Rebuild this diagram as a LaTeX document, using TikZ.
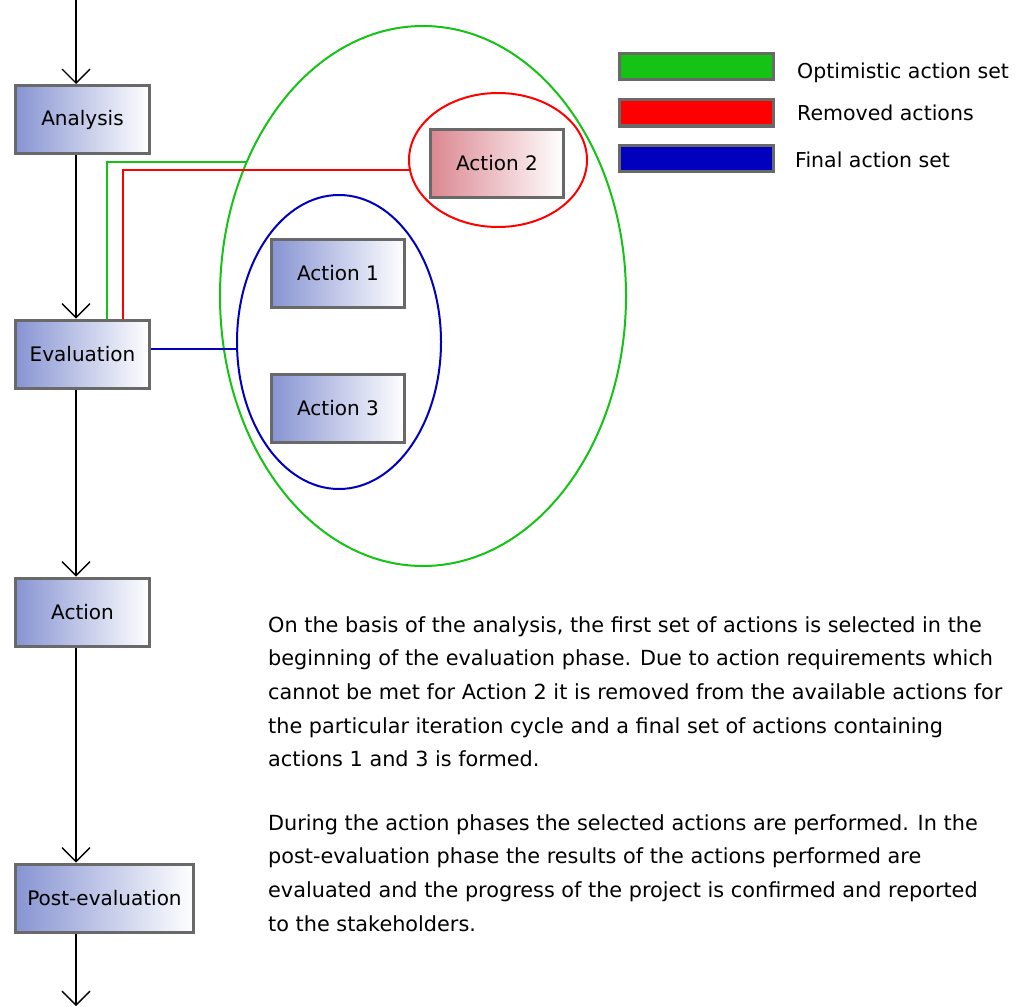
\documentclass[tikz,border=0pt]{standalone}
\usepackage{fontspec}
\setmainfont{DejaVu Sans}
\usetikzlibrary{shapes.geometric,arrows.meta}
\definecolor{boxgray}{RGB}{105,105,105}
\definecolor{boxblue}{RGB}{135,148,210}
\definecolor{boxpink}{RGB}{220,135,145}
\definecolor{optgreen}{RGB}{20,195,20}
\definecolor{remred}{RGB}{255,0,0}
\definecolor{finblue}{RGB}{0,0,190}
\begin{document}
\begin{tikzpicture}[x=1pt,y=-1pt,
  phase/.style={draw=boxgray,line width=3pt,left color=boxblue,right color=white,
    minimum width=134pt,minimum height=68pt,inner sep=0pt,font=\fontsize{20}{24}\selectfont},
  flow/.style={line width=1.4pt,-{Straight Barb[length=14pt,width=28pt,line width=1.3pt]}},
  greenline/.style={draw=optgreen,line width=2pt},
  redline/.style={draw=remred,line width=2pt},
  blueline/.style={draw=finblue,line width=2pt},
  legbar/.style={draw=boxgray,line width=3pt,minimum width=154pt,minimum height=26pt,inner sep=0pt},
  leglabel/.style={anchor=west,inner sep=0pt,font=\fontsize{20.5}{24}\selectfont},
  para/.style={anchor=north west,inner sep=0pt,align=left,font=\fontsize{20.8}{33.7}\selectfont}]
\useasboundingbox (0,0) rectangle (1019,1006);
\fill[white] (0,0) rectangle (1019,1006);

% sets
\node[ellipse,greenline,minimum width=406pt,minimum height=540pt,inner sep=0pt] (opt) at (423,296) {};
\node[ellipse,redline,minimum width=178pt,minimum height=134pt,inner sep=0pt] (rem) at (498,160) {};
\node[ellipse,blueline,minimum width=204pt,minimum height=294pt,inner sep=0pt] (fin) at (339,342) {};

% phases
\node[phase] (analysis) at (82.5,119.5) {Analysis};
\node[phase] (evaluation) at (82.5,354) {Evaluation};
\node[phase] (action) at (82.5,612) {Action};
\node[phase,minimum width=178pt] (post) at (104.5,898) {Post-evaluation};

% actions
\node[phase,left color=boxpink,minimum width=133pt] (a2) at (497,163.5) {Action 2};
\node[phase,minimum width=133pt] (a1) at (338,273) {Action 1};
\node[phase,minimum width=133pt] (a3) at (338,408) {Action 3};

% flow
\coordinate (top) at (76,0);
\coordinate (bot) at (76,1006);
\draw[flow] (top) -- (top |- analysis.north);
\draw[flow] (top |- analysis.south) -- (top |- evaluation.north);
\draw[flow] (top |- evaluation.south) -- (top |- action.north);
\draw[flow] (top |- action.south) -- (top |- post.north);
\draw[flow] (top |- post.south) -- (bot);

% end points of the set connectors on the ellipse borders
\path (opt.center) ++(-176.2,-134) coordinate (gEnd);
\path (rem.center) ++(-88,10) coordinate (rEnd);
\path (fin.center) ++(-101.9,7) coordinate (bEnd);
\path (evaluation.north) ++(24.5,0) coordinate (gStart);
\path (evaluation.north) ++(40.5,0) coordinate (rStart);

% set connectors
\draw[greenline] (gStart) |- (gEnd);
\draw[redline] (rStart) |- (rEnd);
\draw[blueline] (evaluation.east |- bEnd) -- (bEnd);

% legend
\node[legbar,fill=optgreen] (lg) at (696.5,67) {};
\node[legbar,fill=remred] (lr) at (696.5,113) {};
\node[legbar,fill=finblue] (lb) at (696.5,158) {};
\node[leglabel] (tg) at (797,73) {Optimistic action set};
\node[leglabel] (tr) at (797,113) {Removed actions};
\node[leglabel] (tb) at (795,160) {Final action set};

% text
\node[para] (p1) at (268,616) {On the basis of the analysis, the first set of actions is selected in the\\
beginning of the evaluation phase. Due to action requirements which\\
cannot be met for Action 2 it is removed from the available actions for\\
the particular iteration cycle and a final set of actions containing\\
actions 1 and 3 is formed.};
\node[para] (p2) at (268,814) {During the action phases the selected actions are performed. In the\\
post-evaluation phase the results of the actions performed are\\
evaluated and the progress of the project is confirmed and reported\\
to the stakeholders.};
\end{tikzpicture}
\end{document}
